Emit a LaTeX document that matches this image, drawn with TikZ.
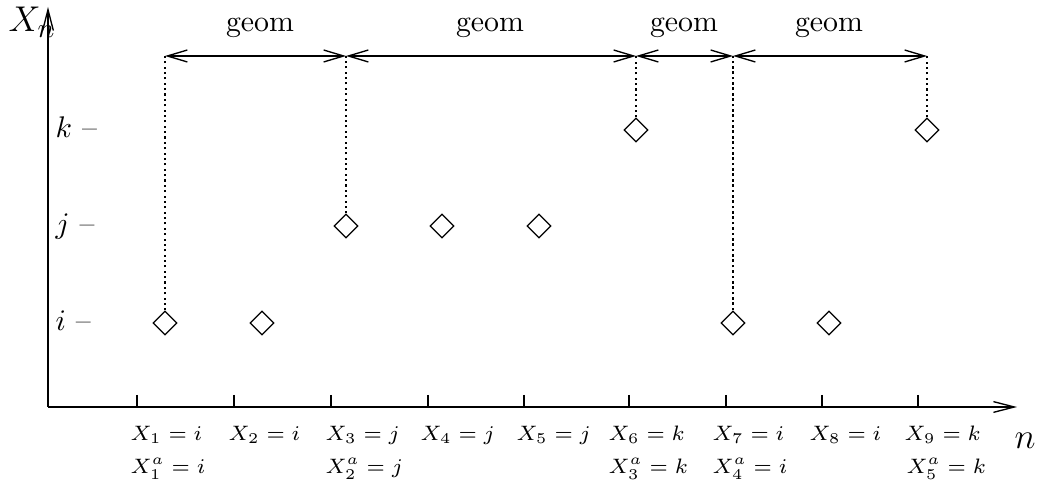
\documentclass[tikz,border=0pt]{standalone}
\usetikzlibrary{arrows.meta,shapes.geometric}
\tikzset{
  axisline/.style={line width=0.45pt, draw=black, -{Straight Barb[length=7pt,width=3.6pt]}},
  gapline/.style={line width=0.45pt, draw=black, {Straight Barb[length=6.7pt,width=4pt]}-{Straight Barb[length=6.7pt,width=4pt]}},
  visit/.style={diamond, draw=black, line width=0.4pt, minimum width=8pt, minimum height=8pt, inner sep=0pt},
  drop/.style={line width=0.7pt, dash pattern=on 0.7pt off 1.1pt},
  dropthick/.style={line width=0.9pt, dash pattern=on 0.9pt off 0.9pt},
  steplabel/.style={font=\fontsize{7.4}{9}\selectfont, anchor=base west, inner sep=0pt},
  statelabel/.style={anchor=base west, inner sep=0pt},
  geomlabel/.style={anchor=base, inner sep=0pt},
}

\begin{document}
\begin{tikzpicture}[x=0.335pt, y=-0.335pt]
\useasboundingbox (0,0) rectangle (1041,491);
% axes
\coordinate (origin) at (48,407);
\draw[axisline] (origin) -- (48,7);
\draw[axisline] (origin) -- (1017,407);
\node[anchor=base west, inner sep=0pt, font=\fontsize{13}{15}\selectfont] (ylab) at (8,32) {$X_n$};
\node[anchor=base west, inner sep=0pt, font=\large] (xlab) at (1014,449) {$n$};
% ticks
\foreach \x in {137,234,331,428,524,629,726,822,918}
  \draw[line width=0.45pt] (\x,395) -- (\x,407);
% states
\node[statelabel] (sk) at (55,138) {$k$ --};
\node[statelabel] (sj) at (55,234) {$j$ --};
\node[statelabel] (si) at (55,331) {$i$ --};
% visits
\node[visit] (v1) at (165,323) {};
\node[visit] (v2) at (262,323) {};
\node[visit] (v3) at (346,226) {};
\node[visit] (v4) at (442,226) {};
\node[visit] (v5) at (539,226) {};
\node[visit] (v6) at (636,130) {};
\node[visit] (v7) at (733,323) {};
\node[visit] (v8) at (829,323) {};
\node[visit] (v9) at (927,130) {};
% jump times
\coordinate (t1) at (165,56);
\coordinate (t3) at (346,56);
\coordinate (t6) at (636,56);
\coordinate (t7) at (733,56);
\coordinate (t9) at (927,56);
\draw[drop] (v1.north) -- (t1);
\draw[drop] (v3.north) -- (t3);
\draw[drop] (v6.north) -- (t6);
\draw[dropthick] (v7.north) -- (t7);
\draw[drop] (v9.north) -- (t9);
\draw[gapline] (t1) -- (t3);
\draw[gapline] (t3) -- (t6);
\draw[gapline] (t6) -- (t7);
\draw[gapline] (t7) -- (t9);
\node[geomlabel] (g1) at (260,32) {geom};
\node[geomlabel] (g2) at (490,32) {geom};
\node[geomlabel] (g3) at (684,32) {geom};
\node[geomlabel] (g4) at (829,32) {geom};
% step values
\node[steplabel] (x1) at (130,441) {$X_1 = i$};
\node[steplabel] (x2) at (228,441) {$X_2 = i$};
\node[steplabel] (x3) at (325,441) {$X_3 = j$};
\node[steplabel] (x4) at (420,441) {$X_4 = j$};
\node[steplabel] (x5) at (516,441) {$X_5 = j$};
\node[steplabel] (x6) at (608,441) {$X_6 = k$};
\node[steplabel] (x7) at (712,441) {$X_7 = i$};
\node[steplabel] (x8) at (809,441) {$X_8 = i$};
\node[steplabel] (x9) at (904,441) {$X_9 = k$};
\node[steplabel] (a1) at (130,474) {$X^a_1 = i$};
\node[steplabel] (a2) at (325,474) {$X^a_2 = j$};
\node[steplabel] (a3) at (608,474) {$X^a_3 = k$};
\node[steplabel] (a4) at (712,474) {$X^a_4 = i$};
\node[steplabel] (a5) at (906,474) {$X^a_5 = k$};
\end{tikzpicture}
\end{document}
